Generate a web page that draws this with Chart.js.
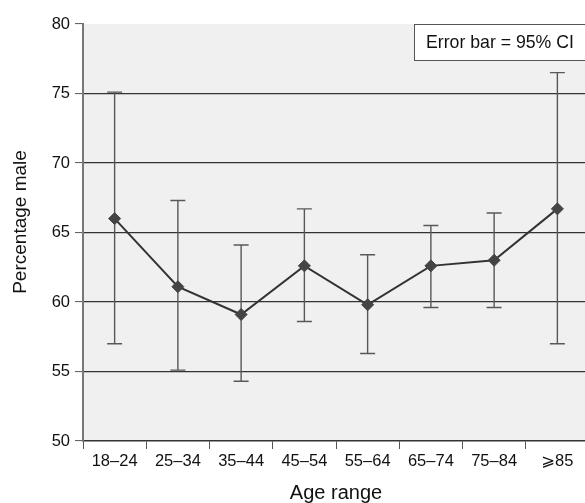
<!DOCTYPE html>
<html>
<head>
<meta charset="utf-8">
<script src="https://cdn.jsdelivr.net/npm/chart.js@4/dist/chart.umd.min.js"></script>
<style>
  html, body { margin: 0; padding: 0; background: #ffffff; overflow: hidden; }
  #wrap { width: 596px; height: 505px; }
</style>
</head>
<body>
<div id="wrap"><canvas id="chart" width="596" height="505"></canvas></div>
<script>
// Share of male patients by age band, with 95% confidence intervals
const categories = ['18–24', '25–34', '35–44', '45–54', '55–64', '65–74', '75–84', '⩾85'];
const percentMale = [66.0, 61.1, 59.1, 62.6, 59.8, 62.6, 63.0, 66.7];
const ciLower = [57.0, 55.1, 54.3, 58.6, 56.3, 59.6, 59.6, 57.0];
const ciUpper = [75.1, 67.3, 64.1, 66.7, 63.4, 65.5, 66.4, 76.5];
const yTicks = [50, 55, 60, 65, 70, 75, 80];
const noteText = 'Error bar = 95% CI';
const yTitle = 'Percentage male';
const xTitle = 'Age range';

const FONT = '"Liberation Sans", Arial, "DejaVu Sans", sans-serif';

// Grey panel behind the plotting area
const panelBackground = {
  id: 'panelBackground',
  beforeDraw(chart) {
    const { ctx, chartArea: a } = chart;
    ctx.save();
    ctx.fillStyle = '#f0f0f0';
    ctx.fillRect(a.left, a.top, a.right - a.left, a.bottom - a.top);
    ctx.restore();
  }
};

// Vertical interval whiskers with end caps
const errorBars = {
  id: 'errorBars',
  beforeDatasetsDraw(chart) {
    const { ctx, scales: { x, y } } = chart;
    ctx.save();
    ctx.strokeStyle = '#585858';
    ctx.lineWidth = 1.4;
    const cap = 7.5;
    categories.forEach((c, i) => {
      const px = x.getPixelForValue(i);
      const top = y.getPixelForValue(ciUpper[i]);
      const bot = y.getPixelForValue(ciLower[i]);
      ctx.beginPath();
      ctx.moveTo(px, top); ctx.lineTo(px, bot);
      ctx.moveTo(px - cap, top); ctx.lineTo(px + cap, top);
      ctx.moveTo(px - cap, bot); ctx.lineTo(px + cap, bot);
      ctx.stroke();
    });
    ctx.restore();
  }
};

// Boxed note in the top-right corner of the plot, plus the rotated y-axis title
const annotations = {
  id: 'annotations',
  afterDatasetsDraw(chart) {
    const { ctx, chartArea: a } = chart;
    ctx.save();
    const left = 414, top = a.top, h = 36;
    ctx.fillStyle = '#ffffff';
    ctx.fillRect(left, top, chart.width - left + 10, h);
    ctx.strokeStyle = '#555555';
    ctx.lineWidth = 1;
    ctx.strokeRect(left + 0.5, top + 0.5, chart.width - left + 10, h);
    ctx.fillStyle = '#111111';
    ctx.font = '17.7px ' + FONT;
    ctx.textBaseline = 'middle';
    ctx.textAlign = 'left';
    ctx.fillText(noteText, 426, top + h / 2 + 1);

    ctx.translate(21, 222);
    ctx.rotate(-Math.PI / 2);
    ctx.textAlign = 'center';
    ctx.font = '19px ' + FONT;
    ctx.fillText(yTitle, 0, 0);
    ctx.restore();
  }
};

new Chart(document.getElementById('chart'), {
  type: 'line',
  data: {
    labels: categories,
    datasets: [{
      data: percentMale,
      borderColor: '#333333',
      borderWidth: 2,
      pointStyle: 'rectRot',
      pointRadius: 6,
      pointBackgroundColor: '#444444',
      pointBorderColor: '#444444',
      pointBorderWidth: 1,
      tension: 0
    }]
  },
  options: {
    responsive: false,
    animation: false,
    devicePixelRatio: 1,
    layout: { padding: { top: 24, right: 2, left: 0, bottom: 0 } },
    plugins: { legend: { display: false }, tooltip: { enabled: false } },
    scales: {
      x: {
        type: 'category',
        offset: true,
        afterFit(s) { s.height = 64; },
        grid: {
          offset: true,
          drawOnChartArea: false,
          drawTicks: true,
          tickLength: 8,
          tickColor: '#555555',
          tickWidth: 1
        },
        border: { display: true, color: '#333333', width: 1.5 },
        ticks: { color: '#111111', font: { family: FONT, size: 16.5 }, padding: 3, maxRotation: 0, autoSkip: false },
        title: { display: true, text: xTitle, color: '#111111', font: { family: FONT, size: 20 }, padding: { top: 0, bottom: 0 } }
      },
      y: {
        min: 50,
        max: 80,
        afterFit(s) { s.width = 83; },
        afterBuildTicks(s) { s.ticks = yTicks.map(v => ({ value: v })); },
        grid: {
          color: ctx => (ctx.tick && (ctx.tick.value === 50 || ctx.tick.value === 80)) ? 'rgba(0,0,0,0)' : '#333333',
          lineWidth: 1.2,
          drawTicks: true,
          tickLength: 8,
          tickColor: '#555555',
          tickWidth: 1
        },
        border: { display: true, color: '#777777', width: 2 },
        ticks: { color: '#111111', font: { family: FONT, size: 16.5 }, padding: 5 },
        title: { display: false }
      }
    }
  },
  plugins: [panelBackground, errorBars, annotations]
});
</script>
</body>
</html>
